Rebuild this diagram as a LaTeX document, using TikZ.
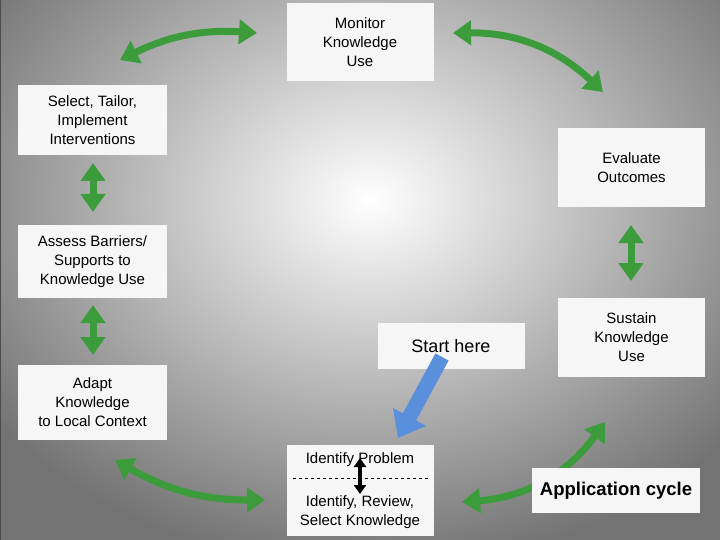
\documentclass[tikz,border=0pt]{standalone}
\usepackage{fontspec}
\setmainfont{Liberation Sans}
\usetikzlibrary{arrows.meta,positioning}
\definecolor{cyclegreen}{HTML}{3C9C3C}
\definecolor{boxwhite}{HTML}{F6F6F6}
\definecolor{startblue}{HTML}{5A8FDC}
\tikzset{>=Latex}

\begin{document}
\begin{tikzpicture}[x=1pt,y=-1pt,
stepnode/.style={rectangle, align=center, fill=boxwhite, minimum width=147pt, inner sep=2pt, font=\fontsize{15}{19}\selectfont},
cyclearrow/.style={draw=cyclegreen, line width=7pt, {Triangle[width=24pt,length=18pt]}-{Triangle[width=24pt,length=18pt]}},
]
%Background
\useasboundingbox (0,0) rectangle (720,540);
\shade[inner color=white, outer color=black!55] (-100,-170) rectangle (840,570);
\draw[black!70, line width=2pt] (0,0) -- (0,540);

%Arrow ends
\coordinate (c1) at (120,60);  \coordinate (c2) at (257,33);
\coordinate (c3) at (453,33);  \coordinate (c4) at (603,92);
\coordinate (c5) at (93,163);  \coordinate (c6) at (93,212);
\coordinate (c7) at (93,305);  \coordinate (c8) at (93,355);
\coordinate (c9) at (631,225); \coordinate (c10) at (631,281);
\coordinate (c11) at (115,460); \coordinate (c12) at (265,500);
\coordinate (c13) at (462,502); \coordinate (c14) at (605,422);
\coordinate (p1) at (360,458); \coordinate (p2) at (360,494);
\coordinate (s1) at (442,357); \coordinate (s2) at (398,438);
\coordinate (d1) at (293,478); \coordinate (d2) at (428,478);

%Lines (behind boxes)
\draw[cyclearrow] (c13) to[bend right=25] (c14);

%Nodes
\node[stepnode, minimum height=78pt](Monitor) at (360,42){Monitor\\Knowledge\\Use};
\node[stepnode, minimum width=149pt, minimum height=70pt](Select) at (92.5,120){Select, Tailor,\\Implement\\Interventions};
\node[stepnode, minimum height=79pt](Evaluate) at (631.5,167.5){Evaluate\\Outcomes};
\node[stepnode, minimum width=149pt, minimum height=73pt](Assess) at (92.5,261.5){Assess Barriers/\\Supports to\\Knowledge Use};
\node[stepnode, minimum height=46pt, font=\fontsize{18}{22}\selectfont](Start) at (451,346){Start here};
\node[stepnode, minimum height=79pt](Sustain) at (631.5,337.5){Sustain\\Knowledge\\Use};
\node[stepnode, minimum width=149pt, minimum height=75pt](Adapt) at (92.5,402.5){Adapt\\Knowledge\\to Local Context};
\node[stepnode, minimum height=91pt](Identify) at (360.5,490.5){};
\node[font=\fontsize{15}{19}\selectfont](Problem) at (360,460){Identify Problem};
\node[font=\fontsize{15}{19}\selectfont, align=center](Review) at (360,512){Identify, Review,\\Select Knowledge};
\node[stepnode, minimum width=168pt, minimum height=45pt, font=\bfseries\fontsize{18.5}{22}\selectfont](Cycle) at (616,490.5){Application cycle};

%Lines
\draw[cyclearrow] (c1) to[bend left=15] (c2);
\draw[cyclearrow] (c3) to[bend left=22] (c4);
\draw[cyclearrow] (c5) -- (c6);
\draw[cyclearrow] (c7) -- (c8);
\draw[cyclearrow] (c9) -- (c10);
\draw[cyclearrow] (c11) to[bend right=15] (c12);
\draw[dashed] (d1) -- (d2);
\draw[line width=4pt, {Triangle[width=12pt,length=9pt]}-{Triangle[width=12pt,length=9pt]}] (p1) -- (p2);
\draw[startblue, line width=15pt, -{Triangle[width=36pt,length=24pt]}] (s1) -- (s2);
\end{tikzpicture}
\end{document}
